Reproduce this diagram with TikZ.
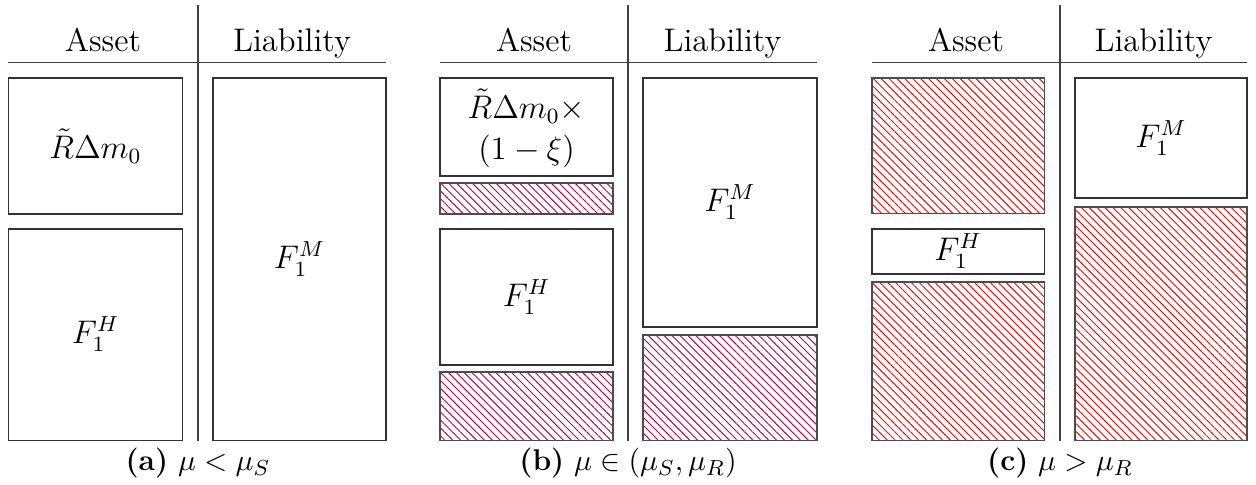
\documentclass[tikz,border=0pt]{standalone}
\usetikzlibrary{patterns.meta}
\tikzset{
  every node/.style={font=\fontsize{12}{14.4}\selectfont, inner sep=0pt},
  rule/.style={draw=black!75, line width=0.45pt},
  boxf/.style={draw=black!80, line width=0.45pt},
  hatchb/.style={draw=black!70, line width=0.45pt, pattern={Lines[angle=-45,distance=2.05pt,line width=0.35pt]}, pattern color=purple},
  hatchc/.style={draw=black!70, line width=0.45pt, pattern={Lines[angle=-45,distance=2.05pt,line width=0.35pt]}, pattern color=red},
  head/.style={anchor=base},
  captext/.style={anchor=base, font=\fontsize{11}{13}\selectfont},
}
\begin{document}
\begin{tikzpicture}[x=0.367pt,y=-0.367pt]
\useasboundingbox (0,0) rectangle (1256,485);
% ---------- panel (a)
\draw[rule] (198,5) -- (198,441);
\draw[rule] (8.5,62.5) -- (386,62.5);
\node[head] (aA) at (103,52) {Asset};
\node[head] (aL) at (292,52) {Liability};
\draw[boxf] (8.5,78) rectangle (182.5,214);
\node (a1) at (95.5,146) {$\tilde{R}\Delta m_0$};
\draw[boxf] (8.5,229) rectangle (182.5,440.5);
\node (a2) at (95.5,334.5) {$F_1^H$};
\draw[boxf] (213,78) rectangle (386,440.5);
\node (a3) at (299.5,259) {$F_1^M$};
\node[captext] (acap) at (198,471) {\textbf{(a)} $\mu<\mu_S$};
% ---------- panel (b)
\draw[rule] (628,5) -- (628,441);
\draw[rule] (440,62.5) -- (817,62.5);
\node[head] (bA) at (534,52) {Asset};
\node[head] (bL) at (722.5,52) {Liability};
\draw[boxf] (440,78) rectangle (613,176);
\node[align=center] (b1) at (526.5,128) {$\tilde{R}\Delta m_0\times$\\[0.5pt]$(1-\xi)$};
\draw[hatchb] (440,183) rectangle (613,214);
\draw[boxf] (440,229) rectangle (613,365);
\node (b2) at (526.5,297) {$F_1^H$};
\draw[hatchb] (440,372) rectangle (613,440.5);
\draw[boxf] (643,78) rectangle (817,327);
\node (b3) at (730,202.5) {$F_1^M$};
\draw[hatchb] (643,335) rectangle (817,440.5);
\node[captext] (bcap) at (628,471) {\textbf{(b)} $\mu\in(\mu_S,\mu_R)$};
% ---------- panel (c)
\draw[rule] (1060,5) -- (1060,441);
\draw[rule] (872,62.5) -- (1247,62.5);
\node[head] (cA) at (966,52) {Asset};
\node[head] (cL) at (1153.5,52) {Liability};
\draw[hatchc] (872,78) rectangle (1044.5,213.5);
\draw[boxf] (872,229) rectangle (1044.5,274);
\node (c1) at (958,251.5) {$F_1^H$};
\draw[hatchc] (872,282) rectangle (1044.5,440.5);
\draw[boxf] (1075,78) rectangle (1247,198);
\node (c2) at (1161,138) {$F_1^M$};
\draw[hatchc] (1075,207) rectangle (1247,440.5);
\node[captext] (ccap) at (1060,471) {\textbf{(c)} $\mu>\mu_R$};
\end{tikzpicture}
\end{document}
